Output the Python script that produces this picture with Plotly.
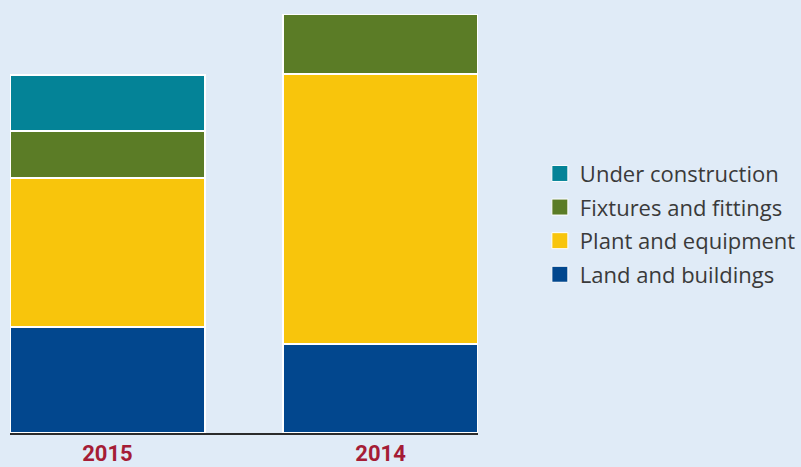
import plotly.graph_objects as go

# Dati (valori stimati dall'immagine)
anni = ["2015", "2014"]
land_buildings = [106, 89]
plant_equipment = [149, 270]
fixtures_fittings = [47, 60]
under_construction = [56, 0]

serie = [
    ("Land and buildings", land_buildings, "#02478e"),
    ("Plant and equipment", plant_equipment, "#f8c50c"),
    ("Fixtures and fittings", fixtures_fittings, "#5b7c26"),
    ("Under construction", under_construction, "#048397"),
]

BG = "#e0ebf7"

fig = go.Figure()
for i, (nome, valori, colore) in enumerate(serie):
    fig.add_trace(go.Bar(
        x=anni, y=valori, name=nome, showlegend=False,
        width=0.713,
        marker=dict(color=colore, line=dict(color="white", width=2)),
    ))
    # voce di legenda con quadrato più grande
    fig.add_trace(go.Scatter(
        x=[None], y=[None], mode="markers", name=nome, legendgroup=nome,
        legendrank=len(serie) - i,
        marker=dict(symbol="square", size=16, color=colore, line=dict(color="white", width=1)),
    ))

fig.update_layout(
    width=801, height=467,
    barmode="stack",
    paper_bgcolor=BG, plot_bgcolor=BG,
    margin=dict(l=10, r=323, t=14, b=34),
    font=dict(family="Open Sans, Arial, sans-serif", color="#3a3a3a"),
    showlegend=True,
    legend=dict(
        xref="container", yref="container",
        x=0.674, y=0.52, xanchor="left", yanchor="middle",
        traceorder="grouped", tracegroupgap=2,
        font=dict(size=22, color="#3a3a3a"),
        bgcolor="rgba(0,0,0,0)",
    ),
    xaxis=dict(
        range=[-0.3565, 1.3565], automargin=False,
        showline=True, linecolor="#2b2b2b", linewidth=2,
        showgrid=False, ticks="", ticklabelstandoff=0,
        tickfont=dict(size=22, color="#a51c36", family="Roboto, Arial, sans-serif", weight="bold"),
    ),
    yaxis=dict(range=[0, 419], visible=False),
)

# niente margine della pagina
fig.write_html("out.html", config={"displayModeBar": False},
               post_script="document.body.style.margin='0';")
